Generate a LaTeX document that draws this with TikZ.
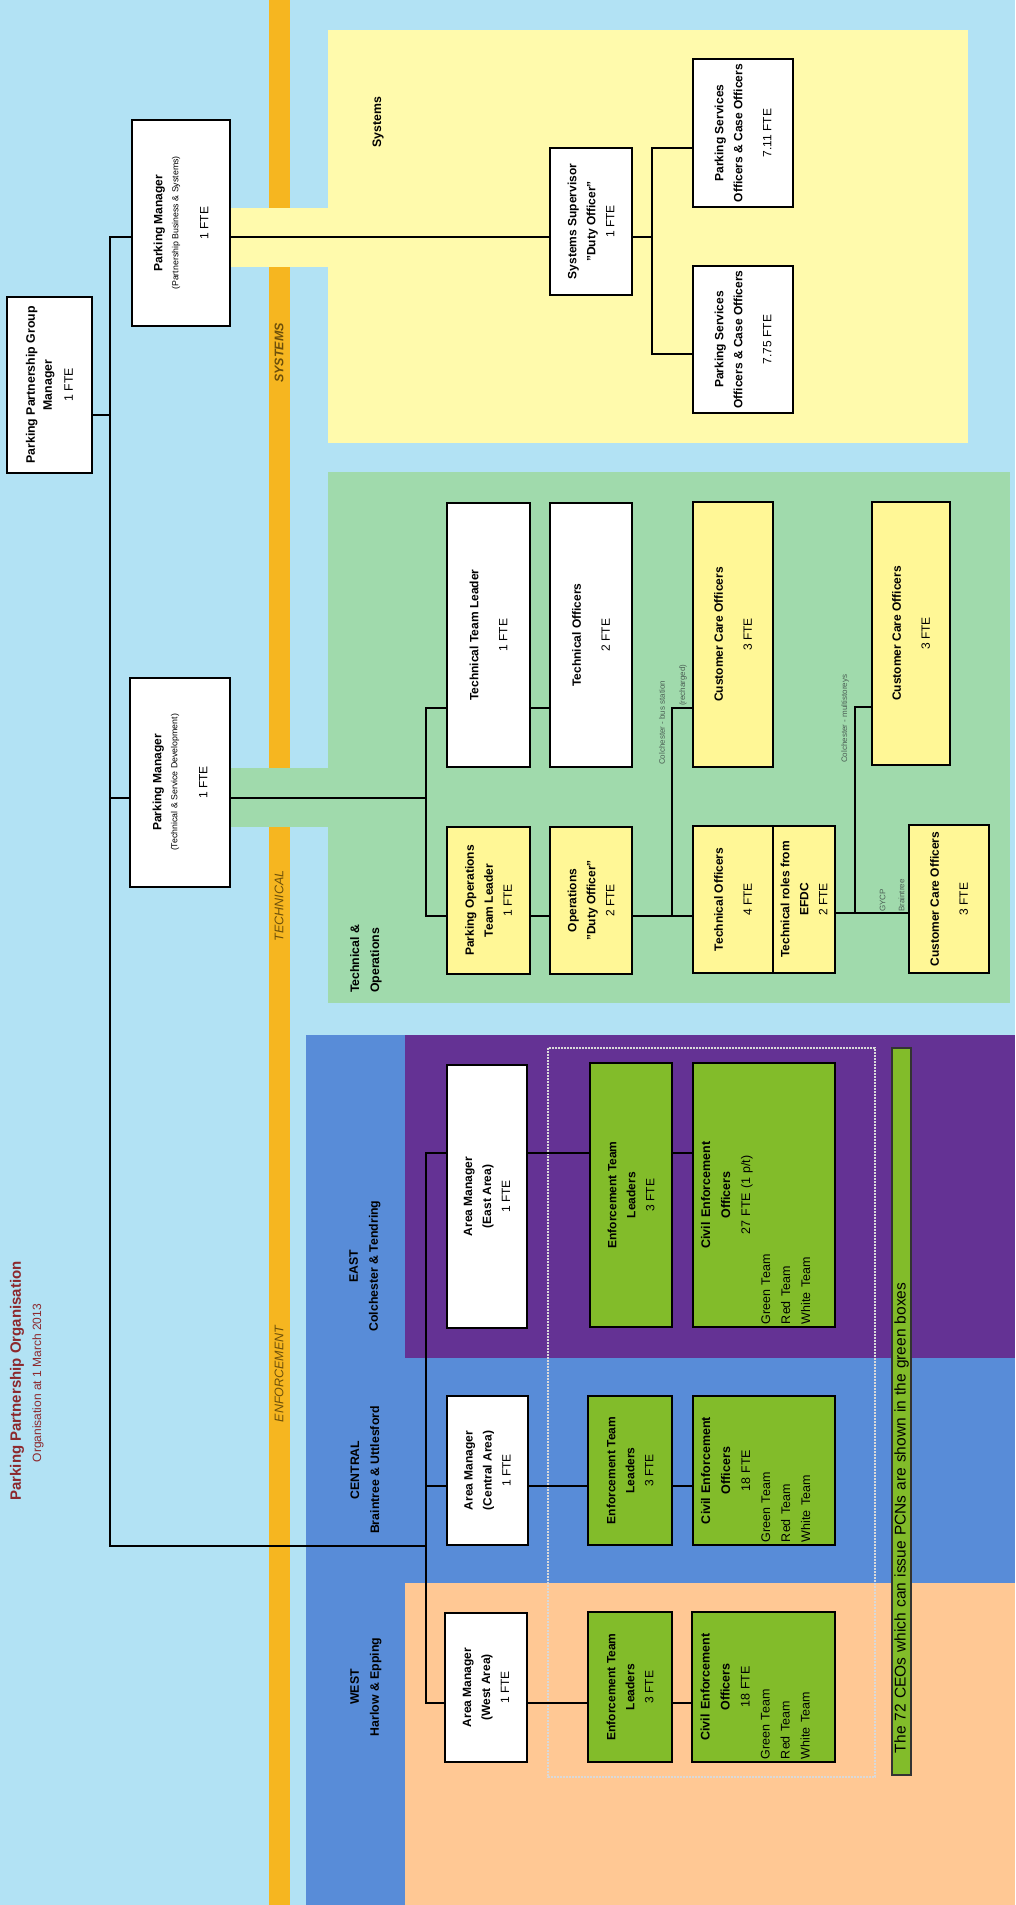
\documentclass[tikz,border=0pt]{standalone}
\usepackage{fontspec}
\setmainfont{Liberation Sans}
\definecolor{skyback}{RGB}{178,226,244}
\definecolor{barorange}{RGB}{246,182,32}
\definecolor{sysyellow}{RGB}{255,250,172}
\definecolor{techgreen}{RGB}{160,218,172}
\definecolor{cenblue}{RGB}{88,140,216}
\definecolor{eastpurple}{RGB}{100,50,148}
\definecolor{westorange}{RGB}{255,200,148}
\definecolor{boxyellow}{RGB}{255,247,150}
\definecolor{boxgreen}{RGB}{130,188,42}
\definecolor{titlered}{RGB}{140,40,45}
\definecolor{bartext}{RGB}{110,80,10}
\definecolor{notegray}{RGB}{75,95,85}

\begin{document}
\begin{tikzpicture}[x=1pt,y=1pt,every node/.append style={rotate=90},
  plainbox/.style={draw=black,line width=2.6pt,fill=white,align=center,inner sep=1pt,font=\fontsize{12}{19}\selectfont},
  box/.style={plainbox,execute at end node={\\[-3pt]\mbox{}}},
  ybox/.style={box,fill=boxyellow},
  gbox/.style={box,fill=boxgreen},
  ceobox/.style={gbox,inner xsep=3pt,font=\fontsize{12.5}{20}\selectfont},
  link/.style={line width=2.3pt},
  barlabel/.style={text=bartext,font=\itshape\fontsize{12.5}{14}\selectfont},
  zonelabel/.style={align=center,font=\bfseries\fontsize{12.3}{20}\selectfont},
  smalllabel/.style={text=notegray,inner sep=0pt,anchor=west,align=left,font=\fontsize{8}{19}\selectfont}]
\useasboundingbox (0,0) rectangle (1015,-1905);

\fill[skyback] (0,0) rectangle (1015,-1905);
\fill[barorange] (269,0) rectangle (290,-1905);
\fill[sysyellow] (328,-30) rectangle (968,-443);
\fill[sysyellow] (230,-208) rectangle (328,-267);
\fill[techgreen] (328,-472) rectangle (1010,-1003);
\fill[techgreen] (230,-768) rectangle (328,-827);
\fill[cenblue] (306,-1035) rectangle (1015,-1905);
\fill[eastpurple] (405,-1035) rectangle (1015,-1358);
\fill[westorange] (405,-1583) rectangle (1015,-1905);

\node[text=titlered,font=\bfseries\fontsize{15}{18}\selectfont] (title) at (17,-1381) {Parking Partnership Organisation};
\node[text=titlered,font=\fontsize{12}{14}\selectfont] (subtitle) at (38,-1383) {Organisation at 1 March 2013};

\node[barlabel,font=\bfseries\itshape\fontsize{12.5}{14}\selectfont] (lsys) at (279,-353) {SYSTEMS};
\node[barlabel] (ltech) at (279,-906) {TECHNICAL};
\node[barlabel] (lenf) at (279,-1374) {ENFORCEMENT};

\node[zonelabel] (systems) at (378,-122) {Systems};
\node[zonelabel,align=left,anchor=west,inner sep=0pt] (techops) at (366,-993) {Technical \&\\Operations};
\node[zonelabel] (east) at (365,-1266) {EAST\\Colchester \& Tendring};
\node[zonelabel] (central) at (365,-1470) {CENTRAL\\Braintree \& Uttlesford};
\node[zonelabel] (west) at (366,-1687) {WEST\\Harlow \& Epping};

\draw[white!70!gray,densely dotted,line width=2pt] (548,-1048) rectangle (875,-1777);
\node[draw=black!80,line width=1.5pt,fill=boxgreen,minimum width=727pt,minimum height=19pt,inner xsep=22pt,inner ysep=0pt,text width=683pt,align=left,font=\fontsize{15.5}{17}\selectfont] (pcn) at (901.5,-1411.5) {The 72 CEOs which can issue PCNs are shown in the green boxes};

\coordinate (jtop) at (110,-237);
\coordinate (jgm) at (110,-415);
\coordinate (jtech) at (110,-798);
\coordinate (jbot) at (110,-1546);
\coordinate (jenf) at (426,-1546);
\coordinate (je1) at (426,-1153);
\coordinate (je2) at (426,-1486);
\coordinate (je3) at (426,-1703);
\coordinate (jt) at (426,-798);
\coordinate (jt1) at (426,-708);
\coordinate (jt2) at (426,-916);
\coordinate (jc1) at (672,-916);
\coordinate (jc2) at (672,-708);
\coordinate (jd1) at (855,-913);
\coordinate (jd2) at (855,-707);
\coordinate (js1) at (652,-148);
\coordinate (js2) at (652,-354);

\node[box,minimum width=176pt,minimum height=85pt,font=\fontsize{12.3}{17}\selectfont] (gm) at (49.5,-385) {\textbf{Parking Partnership Group}\\\textbf{Manager}\\[4pt]1 FTE};
\node[box,minimum width=206pt,minimum height=98pt] (pm1) at (181,-223) {\textbf{Parking Manager}\\[-3pt]{\fontsize{8.8}{10}\selectfont (Partnership Business \& Systems)}\\[11pt]1 FTE};
\node[box,minimum width=209pt,minimum height=100pt] (pm2) at (180,-782.5) {\textbf{Parking Manager}\\[-3pt]{\fontsize{8.8}{10}\selectfont (Technical \& Service Development)}\\[11pt]1 FTE};

\node[box,minimum width=147pt,minimum height=82pt] (sup) at (591,-221.5) {\textbf{Systems Supervisor}\\\textbf{"Duty Officer"}\\1 FTE};
\node[box,minimum width=148pt,minimum height=100pt] (ps1) at (743,-133) {\textbf{Parking Services}\\\textbf{Officers \& Case Officers}\\[10pt]7.11 FTE};
\node[box,minimum width=147pt,minimum height=100pt] (ps2) at (743,-339.5) {\textbf{Parking Services}\\\textbf{Officers \& Case Officers}\\[10pt]7.75 FTE};

\node[box,minimum width=264pt,minimum height=83pt] (ttl) at (488.5,-635) {\textbf{Technical Team Leader}\\[10pt]1 FTE};
\node[ybox,minimum width=147pt,minimum height=83pt] (potl) at (488.5,-900.5) {\textbf{Parking Operations}\\\textbf{Team Leader}\\1 FTE};
\node[box,minimum width=264pt,minimum height=82pt] (to2) at (591,-635) {\textbf{Technical Officers}\\[10pt]2 FTE};
\node[ybox,minimum width=147pt,minimum height=82pt] (ops) at (591,-900.5) {\textbf{Operations}\\\textbf{"Duty Officer"}\\2 FTE};
\node[ybox,minimum width=265pt,minimum height=80pt] (cc1) at (733,-634.5) {\textbf{Customer Care Officers}\\[10pt]3 FTE};
\node[ybox,minimum width=147pt,minimum height=80pt] (to4) at (733,-899.5) {\textbf{Technical Officers}\\[10pt]4 FTE};
\node[plainbox,fill=boxyellow,minimum width=147pt,minimum height=62pt] (efdc) at (804,-899.5) {\textbf{Technical roles from}\\\textbf{EFDC}\\2 FTE};
\node[ybox,minimum width=263pt,minimum height=78pt] (cc2) at (911,-633.5) {\textbf{Customer Care Officers}\\[10pt]3 FTE};
\node[ybox,minimum width=148pt,minimum height=80pt] (cc3) at (949,-899) {\textbf{Customer Care Officers}\\[10pt]3 FTE};

\node[smalllabel] (busst) at (662,-765) {Colchester - bus station};
\node[smalllabel] (rech) at (683,-706) {(recharged)};
\node[smalllabel] (multi) at (845,-763) {Colchester - multistoreys};
\node[smalllabel] (gycp) at (892,-912) {GYCP\\Braintree};

\node[box,minimum width=263pt,minimum height=80pt] (eam) at (487,-1196.5) {\textbf{Area Manager}\\\textbf{(East Area)}\\1 FTE};
\node[box,minimum width=149pt,minimum height=81pt] (cam) at (487.5,-1470.5) {\textbf{Area Manager}\\\textbf{(Central Area)}\\1 FTE};
\node[box,minimum width=149pt,minimum height=82pt] (wam) at (486,-1687.5) {\textbf{Area Manager}\\\textbf{(West Area)}\\1 FTE};
\node[gbox,minimum width=264pt,minimum height=82pt] (etle) at (631,-1195) {\textbf{Enforcement Team}\\\textbf{Leaders}\\3 FTE};
\node[gbox,minimum width=149pt,minimum height=84pt] (etlc) at (630,-1470.5) {\textbf{Enforcement Team}\\\textbf{Leaders}\\3 FTE};
\node[gbox,minimum width=150pt,minimum height=84pt] (etlw) at (630,-1687) {\textbf{Enforcement Team}\\\textbf{Leaders}\\3 FTE};
\node[ceobox,minimum width=264pt,minimum height=142pt,text width=258pt] (ceoe) at (764,-1195) {\textbf{Civil Enforcement}\\\textbf{Officers}\\27 FTE (1 p/t)\\Green Team\hfill\null\\Red Team\hfill\null\\White Team\hfill\null};
\node[ceobox,minimum width=149pt,minimum height=142pt,text width=143pt] (ceoc) at (764,-1470.5) {\textbf{Civil Enforcement}\\\textbf{Officers}\\18 FTE\\Green Team\hfill\null\\Red Team\hfill\null\\White Team\hfill\null};
\node[ceobox,minimum width=150pt,minimum height=143pt,text width=144pt] (ceow) at (763.5,-1687) {\textbf{Civil Enforcement}\\\textbf{Officers}\\18 FTE\\Green Team\hfill\null\\Red Team\hfill\null\\White Team\hfill\null};

\draw[link] (pm1.north |- jtop) -- (jtop) -- (jbot) -- (jenf);
\draw[link] (gm.south |- jgm) -- (jgm);
\draw[link] (pm2.north |- jtech) -- (jtech);

\draw[link] (pm1.south |- jtop) -- (sup.north |- jtop);
\draw[link] (sup.south |- jtop) -- (jtop -| js1);
\draw[link] (js1 -| ps1.north) -- (js1) -- (js2) -- (js2 -| ps2.north);

\draw[link] (pm2.south |- jt) -- (jt);
\draw[link] (jt1 -| ttl.north) -- (jt1) -- (jt2) -- (jt2 -| potl.north);
\draw[link] (ttl.south |- jt1) -- (to2.north |- jt1);
\draw[link] (potl.south |- jt2) -- (ops.north |- jt2);
\draw[link] (ops.south |- jc1) -- (to4.north |- jc1);
\draw[link] (jc1) -- (jc2) -- (jc2 -| cc1.north);
\draw[link] (efdc.south |- jd1) -- (cc3.north |- jd1);
\draw[link] (jd1) -- (jd2) -- (jd2 -| cc2.north);

\draw[link] (je1 -| eam.north) -- (je1) -- (je3) -- (je3 -| wam.north);
\draw[link] (je2) -- (je2 -| cam.north);
\draw[link] (eam.south |- je1) -- (etle.north |- je1);
\draw[link] (etle.south |- je1) -- (ceoe.north |- je1);
\draw[link] (cam.south |- je2) -- (etlc.north |- je2);
\draw[link] (etlc.south |- je2) -- (ceoc.north |- je2);
\draw[link] (wam.south |- je3) -- (etlw.north |- je3);
\draw[link] (etlw.south |- je3) -- (ceow.north |- je3);
\end{tikzpicture}
\end{document}
